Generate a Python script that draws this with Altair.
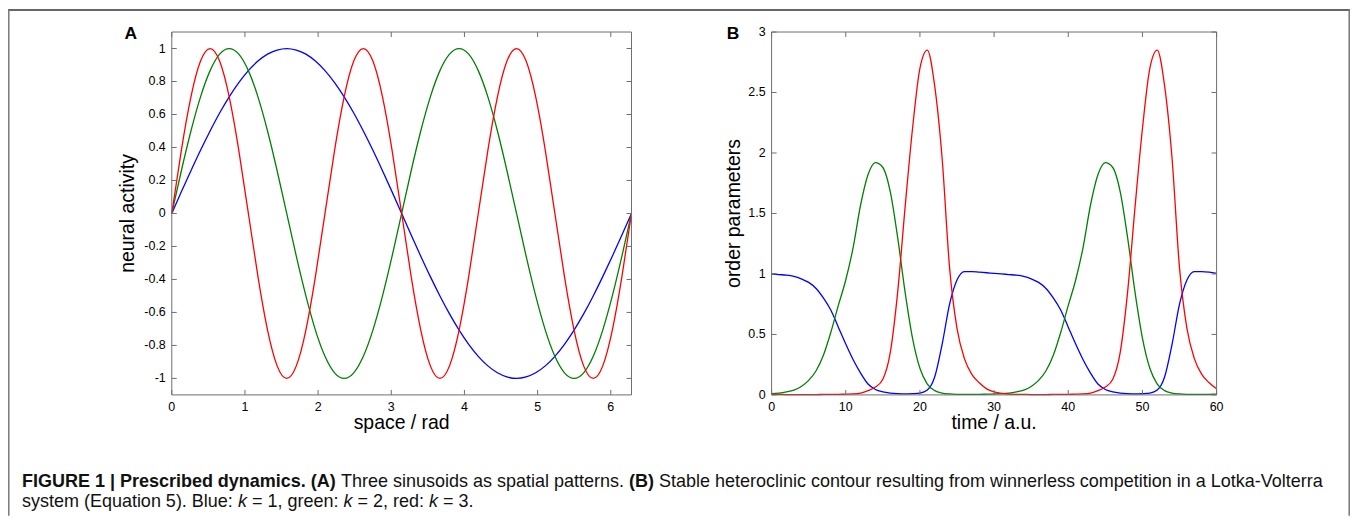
import altair as alt
import pandas as pd

# ---------------- data ----------------
# Panel A: spatial patterns (space in rad)
space_rad = [0.000, 0.131, 0.262, 0.393, 0.524, 0.654, 0.785, 0.916, 1.047, 1.178,
             1.309, 1.440, 1.571, 1.702, 1.833, 1.963, 2.094, 2.225, 2.356, 2.487,
             2.618, 2.749, 2.880, 3.011, 3.142, 3.272, 3.403, 3.534, 3.665, 3.796,
             3.927, 4.058, 4.189, 4.320, 4.451, 4.581, 4.712, 4.843, 4.974, 5.105,
             5.236, 5.367, 5.498, 5.629, 5.760, 5.890, 6.021, 6.152, 6.283]
blue_a = [0, .131, .259, .383, .5, .609, .707, .793, .866, .924, .966, .991, 1,
          .991, .966, .924, .866, .793, .707, .609, .5, .383, .259, .131, 0,
          -.131, -.259, -.383, -.5, -.609, -.707, -.793, -.866, -.924, -.966, -.991, -1,
          -.991, -.966, -.924, -.866, -.793, -.707, -.609, -.5, -.383, -.259, -.131, 0]
green_a = [0, .259, .5, .707, .866, .966, 1, .966, .866, .707, .5, .259, 0,
           -.259, -.5, -.707, -.866, -.966, -1, -.966, -.866, -.707, -.5, -.259, 0,
           .259, .5, .707, .866, .966, 1, .966, .866, .707, .5, .259, 0,
           -.259, -.5, -.707, -.866, -.966, -1, -.966, -.866, -.707, -.5, -.259, 0]
red_a = [0, .383, .707, .924, 1, .924, .707, .383, 0, -.383, -.707, -.924, -1, -.924,
         -.707, -.383, 0, .383, .707, .924, 1, .924, .707, .383, 0, -.383, -.707, -.924,
         -1, -.924, -.707, -.383, 0, .383, .707, .924, 1, .924, .707, .383, 0, -.383,
         -.707, -.924, -1, -.924, -.707, -.383, 0]

# Panel B: order parameters over time (a.u.)
time_au = [0, 1, 2, 3, 4, 5, 6, 7, 8, 9, 10, 11, 12, 13, 14, 15, 16, 17, 18, 19, 20,
           21, 22, 23, 24, 25, 26, 27, 28, 29, 30, 31, 32, 33, 34, 35, 36, 37, 38, 39, 40,
           41, 42, 43, 44, 45, 46, 47, 48, 49, 50, 51, 52, 53, 54, 55, 56, 57, 58, 59, 60]
blue_b = [1.0, 0.995, 0.99, 0.98, 0.96, 0.93, 0.88, 0.8, 0.7, 0.56, 0.42, 0.29, 0.18, 0.09,
          0.045, 0.025, 0.015, 0.01, 0.008, 0.01, 0.015, 0.04, 0.15, 0.42, 0.75, 0.95, 1.02,
          1.02, 1.015, 1.01, 1.005,
          1.0, 0.995, 0.99, 0.98, 0.96, 0.93, 0.88, 0.8, 0.7, 0.56, 0.42, 0.29, 0.18, 0.09,
          0.045, 0.025, 0.015, 0.01, 0.008, 0.01, 0.015, 0.04, 0.15, 0.42, 0.75, 0.95, 1.02,
          1.02, 1.015, 1.005]
green_b = [0.01, 0.015, 0.025, 0.04, 0.07, 0.12, 0.2, 0.33, 0.52, 0.74, 0.95, 1.22, 1.57,
           1.82, 1.92, 1.88, 1.68, 1.3, 0.85, 0.47, 0.22, 0.09, 0.035, 0.015, 0.008, 0.005,
           0.004, 0.004, 0.005, 0.006, 0.008,
           0.01, 0.015, 0.025, 0.04, 0.07, 0.12, 0.2, 0.33, 0.52, 0.74, 0.95, 1.22, 1.57,
           1.82, 1.92, 1.88, 1.68, 1.3, 0.85, 0.47, 0.22, 0.09, 0.035, 0.015, 0.008, 0.005,
           0.004, 0.004, 0.005, 0.006]
red_b = [0.005, 0.004, 0.003, 0.003, 0.003, 0.003, 0.003, 0.004, 0.004, 0.005, 0.006, 0.008,
         0.015, 0.035, 0.065, 0.13, 0.35, 0.85, 1.55, 2.2, 2.7, 2.85, 2.55, 1.95, 1.05, 0.55,
         0.3, 0.17, 0.1, 0.05, 0.025,
         0.012, 0.007, 0.005, 0.004, 0.003, 0.003, 0.003, 0.004, 0.004, 0.005, 0.006, 0.008,
         0.015, 0.035, 0.065, 0.13, 0.35, 0.85, 1.55, 2.2, 2.7, 2.85, 2.55, 1.95, 1.05, 0.55,
         0.3, 0.17, 0.1, 0.05]

series_k = ["1", "2", "3"]
series_colors = ["#0000ff", "#008000", "#ff0000"]

a_xticks = [0, 1, 2, 3, 4, 5, 6]
a_xlabels = ["0", "1", "2", "3", "4", "5", "6"]
a_yticks = [-1, -0.8, -0.6, -0.4, -0.2, 0, 0.2, 0.4, 0.6, 0.8, 1]
a_ylabels = ["-1", "-0.8", "-0.6", "-0.4", "-0.2", "0", "0.2", "0.4", "0.6", "0.8", "1"]
b_xticks = [0, 10, 20, 30, 40, 50, 60]
b_xlabels = ["0", "10", "20", "30", "40", "50", "60"]
b_yticks = [0, 0.5, 1, 1.5, 2, 2.5, 3]
b_ylabels = ["0", "0.5", "1", "1.5", "2", "2.5", "3"]
A_XDOM = [0, 6.2832]
A_YDOM = [-1.1, 1.1]
B_XDOM = [0, 60]
B_YDOM = [0, 3]

caption_line1 = [("FIGURE 1 | Prescribed dynamics. (A) ", "bold"),
                 ("Three sinusoids as spatial patterns. ", "normal"),
                 ("(B) ", "bold"),
                 ("Stable heteroclinic contour resulting from winnerless competition in a Lotka-Volterra", "normal")]
caption_line2 = [("system (Equation 5). Blue: ", "normal"), ("k", "italic"),
                 (" = 1, green: ", "normal"), ("k", "italic"),
                 (" = 2, red: ", "normal"), ("k", "italic"), (" = 3.", "normal")]

# ---------------- layout ----------------
W, H = 1348, 509
FONT = "Liberation Sans"
A_X = [164.5, 626.3]
B_X = [767.0, 1214.0]
Y_PIX = [387.5, 23.0]
FRAME = "#6e6e6e"
TICK_LEN = 5
LABEL_FS = 12.5
TITLE_FS = 19.5


def panel(xs, ys, xdom, ydom, xpix, xticks, xlabels, yticks, ylabels,
          xtitle, ytitle, ytitle_x, interp):
    sx = alt.Scale(domain=xdom, range=xpix, nice=False, zero=False)
    sy = alt.Scale(domain=ydom, range=Y_PIX, nice=False, zero=False)
    n = len(xs)
    df = pd.DataFrame({"x": xs * 3, "y": ys[0] + ys[1] + ys[2],
                       "k": [series_k[0]] * n + [series_k[1]] * n + [series_k[2]] * n})
    lines = alt.Chart(df).mark_line(strokeWidth=1.3, interpolate=interp).encode(
        x=alt.X("x:Q", scale=sx, axis=None),
        y=alt.Y("y:Q", scale=sy, axis=None),
        color=alt.Color("k:N", scale=alt.Scale(domain=series_k, range=series_colors), legend=None),
    )
    one = pd.DataFrame({"a": [0]})
    frame = alt.Chart(one).mark_rect(fillOpacity=0, stroke=FRAME, strokeWidth=1).encode(
        x=alt.XDatum(xdom[0], scale=sx, axis=None), x2=alt.datum(xdom[1]),
        y=alt.YDatum(ydom[0], scale=sy, axis=None), y2=alt.datum(ydom[1]),
    )
    dx = pd.DataFrame({"v": xticks, "lab": xlabels})
    dy = pd.DataFrame({"v": yticks, "lab": ylabels})
    parts = [lines, frame]
    for edge, off in ((ydom[0], -TICK_LEN), (ydom[1], TICK_LEN)):
        parts.append(alt.Chart(dx).mark_rule(color=FRAME, strokeWidth=1, y2Offset=off).encode(
            x=alt.X("v:Q", scale=sx, axis=None),
            y=alt.YDatum(edge, scale=sy, axis=None), y2=alt.datum(edge)))
    for edge, off in ((xdom[0], TICK_LEN), (xdom[1], -TICK_LEN)):
        parts.append(alt.Chart(dy).mark_rule(color=FRAME, strokeWidth=1, x2Offset=off).encode(
            y=alt.Y("v:Q", scale=sy, axis=None),
            x=alt.XDatum(edge, scale=sx, axis=None), x2=alt.datum(edge)))
    # tick labels
    parts.append(alt.Chart(dx).mark_text(
        baseline="top", align="center", dy=6, font=FONT, fontSize=LABEL_FS, color="black"
    ).encode(x=alt.X("v:Q", scale=sx, axis=None),
             y=alt.YDatum(ydom[0], scale=sy, axis=None), text="lab:N"))
    parts.append(alt.Chart(dy).mark_text(
        baseline="middle", align="right", dx=-6, font=FONT, fontSize=LABEL_FS, color="black"
    ).encode(y=alt.Y("v:Q", scale=sy, axis=None),
             x=alt.XDatum(xdom[0], scale=sx, axis=None), text="lab:N"))
    # axis titles
    parts.append(alt.Chart(pd.DataFrame({"t": [xtitle]})).mark_text(
        baseline="alphabetic", align="center", font=FONT, fontSize=TITLE_FS, color="black"
    ).encode(x=alt.value((xpix[0] + xpix[1]) / 2), y=alt.value(422), text="t:N"))
    parts.append(alt.Chart(pd.DataFrame({"t": [ytitle]})).mark_text(
        baseline="middle", align="center", angle=270, font=FONT, fontSize=TITLE_FS,
        color="black"
    ).encode(x=alt.value(ytitle_x), y=alt.value((Y_PIX[0] + Y_PIX[1]) / 2), text="t:N"))
    return alt.layer(*parts)


panelA = panel(space_rad, [blue_a, green_a, red_a], A_XDOM, A_YDOM, A_X,
               a_xticks, a_xlabels, a_yticks, a_ylabels, "space / rad", "neural activity",
               121.0, "natural")
panelB = panel(time_au, [blue_b, green_b, red_b], B_XDOM, B_YDOM, B_X,
               b_xticks, b_xlabels, b_yticks, b_ylabels, "time / a.u.", "order parameters",
               729.5, "monotone")

# ---------------- caption / decorations ----------------
REG = {' ': 278, '(': 333, ')': 333, ',': 278, '-': 333, '.': 278, '/': 278, ':': 278,
       '=': 584, '|': 260}
BOLD = {' ': 278, '(': 333, ')': 333, ',': 278, '-': 333, '.': 278, '/': 278, ':': 333,
        '=': 584, '|': 280}
for c in "0123456789":
    REG[c] = 556
    BOLD[c] = 556
REG.update(dict(zip("ABCDEFGHIJKLMNOPQRSTUVWXYZ",
                    [667, 667, 722, 722, 667, 611, 778, 722, 278, 500, 667, 556, 833, 722, 778,
                     667, 778, 722, 667, 611, 722, 667, 944, 667, 667, 611])))
REG.update(dict(zip("abcdefghijklmnopqrstuvwxyz",
                    [556, 556, 500, 556, 556, 278, 556, 556, 222, 222, 500, 222, 833, 556, 556,
                     556, 556, 333, 500, 278, 556, 500, 722, 500, 500, 500])))
BOLD.update(dict(zip("ABCDEFGHIJKLMNOPQRSTUVWXYZ",
                     [722, 722, 722, 722, 667, 611, 778, 722, 278, 556, 722, 611, 833, 722, 778,
                      667, 778, 722, 667, 611, 722, 667, 944, 667, 667, 611])))
BOLD.update(dict(zip("abcdefghijklmnopqrstuvwxyz",
                     [556, 611, 556, 611, 556, 333, 611, 611, 278, 278, 556, 278, 889, 611, 611,
                      611, 611, 389, 556, 333, 611, 556, 778, 556, 556, 500])))


def em(s, style):
    t = BOLD if style == "bold" else REG
    return sum(t.get(c, 556) for c in s) / 1000.0


CAP_X0 = 14.0
CAP_W = 1308.0
CAP_FS = CAP_W / sum(em(s, st) for s, st in caption_line1)
CAP_Y = [480.5, 500.5]

texts = []
for line, yb in ((caption_line1, CAP_Y[0]), (caption_line2, CAP_Y[1])):
    x = CAP_X0
    for s, st in line:
        stripped = s.strip()
        lead = len(s) - len(s.lstrip())
        xs = x + em(s[:lead], st) * CAP_FS
        texts.append(
            alt.Chart(pd.DataFrame({"t": [stripped]})).mark_text(
                align="left", baseline="alphabetic", font=FONT, fontSize=CAP_FS,
                fontWeight="bold" if st == "bold" else "normal",
                fontStyle="italic" if st == "italic" else "normal", color="#111111",
            ).encode(text="t:N", x=alt.value(xs), y=alt.value(yb)))
        x += em(s, st) * CAP_FS

for letter, lx in (("A", 117.0), ("B", 722.0)):
    texts.append(alt.Chart(pd.DataFrame({"t": [letter]})).mark_text(
        align="left", baseline="alphabetic", font=FONT, fontSize=17.5, fontWeight="bold",
        color="black").encode(text="t:N", x=alt.value(lx), y=alt.value(30.5)))

one = pd.DataFrame({"a": [0]})
border = [
    alt.Chart(one).mark_rule(color="#333333", strokeWidth=1.6).encode(
        x=alt.value(0), x2=alt.value(W), y=alt.value(0.8)),
    alt.Chart(one).mark_rule(color="#777777", strokeWidth=1.5).encode(
        x=alt.value(0.8), y=alt.value(0), y2=alt.value(H)),
    alt.Chart(one).mark_rule(color="#777777", strokeWidth=1.5).encode(
        x=alt.value(W - 0.8), y=alt.value(0), y2=alt.value(H)),
]

chart = alt.layer(panelA, panelB, *texts, *border).resolve_scale(
    x="independent", y="independent"
).properties(
    width=W, height=H, padding=0, autosize=alt.AutoSizeParams(type="none"),
    background="white",
).configure_view(strokeWidth=0)

chart.save("out.html", embed_options={"renderer": "svg", "actions": False})
